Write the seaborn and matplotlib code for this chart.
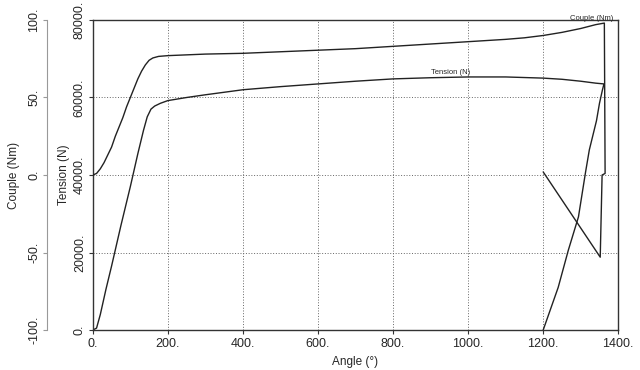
import numpy as np
import pandas as pd
import matplotlib
matplotlib.use('Agg')
import matplotlib.pyplot as plt
from matplotlib.ticker import FuncFormatter
import seaborn as sns

# ── Data ──────────────────────────────────────────────
couple_angle = [0, 10, 20, 30, 40, 50, 60, 70, 80, 90, 100, 110, 120, 130, 140, 150,
                160, 175, 200, 250, 300, 400, 500, 600, 700, 800, 900, 1000, 1100,
                1150, 1200, 1250, 1300, 1340, 1363, 1365, 1357, 1352, 1200]
couple_nm = [0, 1, 4, 8, 13, 18, 25, 31, 37, 44, 50, 56, 62, 67, 71, 74,
             75.5, 76.5, 77, 77.5, 78, 78.5, 79.5, 80.5, 81.5, 83, 84.5, 86, 87.5,
             88.5, 90, 92, 94.5, 97, 98, 1, 0, -53, 2]

tension_angle = [0, 10, 20, 35, 50, 75, 100, 120, 135, 145, 155, 165, 180, 200, 250,
                 300, 400, 500, 600, 700, 800, 900, 1000, 1100, 1200, 1250, 1300, 1340,
                 1362, 1358, 1350, 1342, 1323, 1313, 1294, 1267, 1240, 1200]
tension_n = [0, 500, 4000, 10500, 16500, 27000, 37000, 45500, 51500, 55000, 57000,
             57800, 58500, 59200, 60000, 60700, 62000, 62800, 63500, 64200, 64800,
             65100, 65300, 65300, 65000, 64700, 64200, 63700, 63500, 62000, 58500,
             54000, 46500, 40800, 29200, 20600, 11000, 0]

angle_ticks = [0, 200, 400, 600, 800, 1000, 1200, 1400]
tension_ticks = [0, 20000, 40000, 60000, 80000]
couple_ticks = [-100, -50, 0, 50, 100]

# ── Settings ──────────────────────────────────────────
sns.set_theme(style='white')
plt.rcParams['font.family'] = ['Liberation Sans', 'DejaVu Sans']

dot = lambda v, pos: f'{v:.0f}.'

fig = plt.figure(figsize=(6.4, 3.7), dpi=100)
ax = fig.add_axes([0.145, 0.108, 0.821, 0.838])
ax2 = ax.twinx()

sns.lineplot(x=tension_angle, y=tension_n, sort=False, estimator=None,
             color='#222222', lw=1.0, ax=ax)
sns.lineplot(x=couple_angle, y=couple_nm, sort=False, estimator=None,
             color='#222222', lw=1.0, ax=ax2)

ax.set_xlim(0, 1400)
ax.set_ylim(0, 80000)
ax2.set_ylim(-100, 100)

ax.set_xticks(angle_ticks)
ax.set_yticks(tension_ticks)
ax2.set_yticks(couple_ticks)
ax.xaxis.set_major_formatter(FuncFormatter(dot))
ax.yaxis.set_major_formatter(FuncFormatter(dot))
ax2.yaxis.set_major_formatter(FuncFormatter(dot))

# dotted grid inside the frame
for a in angle_ticks[1:-1]:
    ax.axvline(a, color='#666666', lw=0.7, ls=(0, (1.0, 1.8)), zorder=0)
for t in tension_ticks[1:-1]:
    ax.axhline(t, color='#666666', lw=0.7, ls=(0, (1.0, 1.8)), zorder=0)

for s in ax.spines.values():
    s.set_color('#333333')
    s.set_linewidth(1.0)

# couple axis moved out to the left (46 px = 33 pt at 100 dpi)
ax2.yaxis.tick_left()
ax2.yaxis.set_label_position('left')
ax2.spines['left'].set_position(('outward', 33))
ax2.spines['left'].set_visible(True)
ax2.spines['left'].set_color('#999999')
ax2.spines['left'].set_linewidth(0.8)
for side in ['right', 'top', 'bottom']:
    ax2.spines[side].set_visible(False)

ax.tick_params(axis='x', length=3, width=0.8, color='#333333', labelsize=9,
               pad=3, bottom=True)
ax.tick_params(axis='y', length=3, width=0.8, color='#333333', labelsize=9,
               labelrotation=90, pad=2, left=True)
ax2.tick_params(axis='y', length=3, width=0.8, color='#999999', labelsize=9,
                labelrotation=90, pad=2, left=True, right=False,
                labelleft=True, labelright=False)
for lab in ax.get_yticklabels() + ax2.get_yticklabels():
    lab.set_va('center')

ax.set_xlabel('Angle (°)', fontsize=8.5, labelpad=4)
ax.set_ylabel('Tension (N)', fontsize=8.5, labelpad=3)
ax2.set_ylabel('Couple (Nm)', fontsize=8.5, labelpad=6)

ax.text(952, 65600, 'Tension (N)', fontsize=5.5, ha='center', va='bottom')
ax2.text(1330, 98.5, 'Couple (Nm)', fontsize=5.5, ha='center', va='bottom')

plt.savefig('out.png', dpi=100)
